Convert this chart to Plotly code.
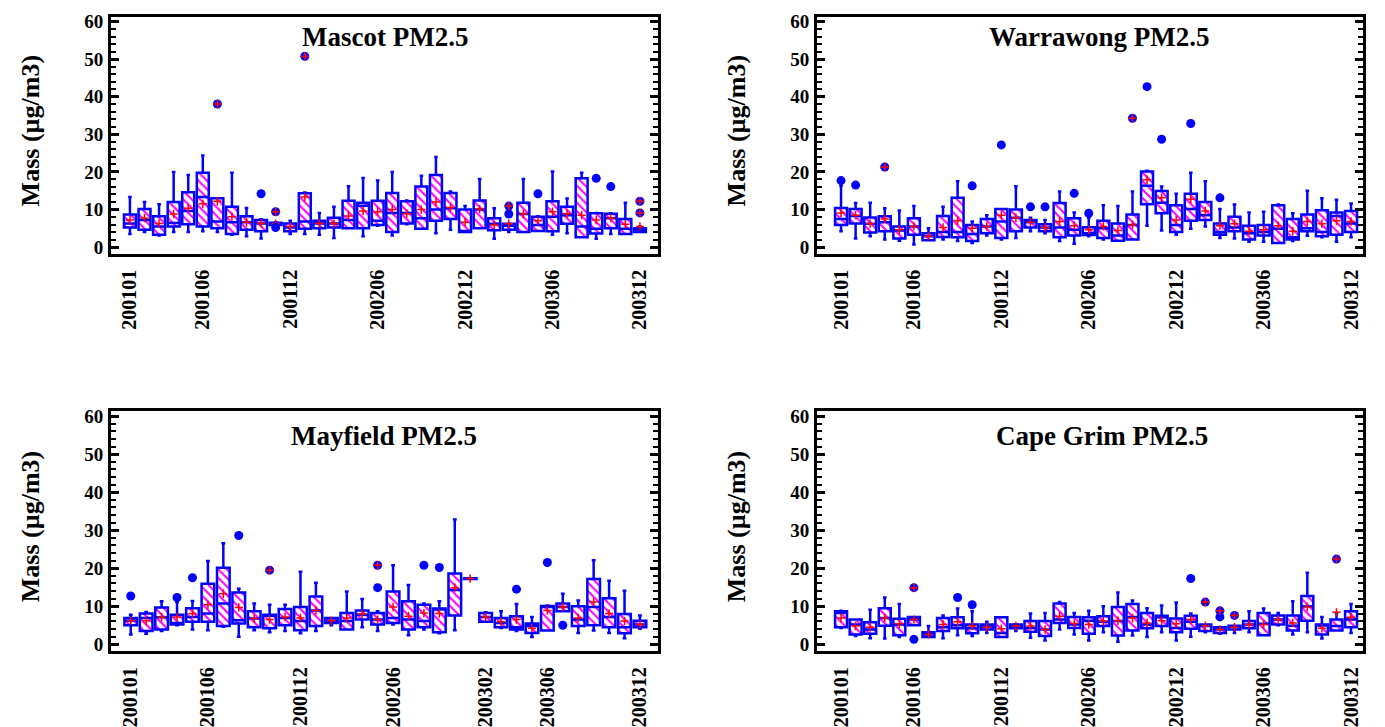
import plotly.graph_objects as go

W, H = 1385, 727

MONTHS = [f"{y}{m:02d}" for y in (2001, 2002, 2003) for m in range(1, 13)]
MAYFIELD_MISSING = ["200211", "200212"]
MAYFIELD_MONTHS = [m for m in MONTHS if m not in MAYFIELD_MISSING]
TICKS_STD = ["200101", "200106", "200112", "200206", "200212", "200306", "200312"]
TICKS_MAY = ["200101", "200106", "200112", "200206", "200302", "200306", "200312"]

# ---------------- Mascot ----------------
mascot_lo = [3.5, 4.0, 3.1, 4.0, 4.0, 4.2, 4.0, 3.3, 2.9, 2.3, 5.6, 3.5, 3.5, 3.3, 2.4, 5.0, 2.9, 5.7,
             3.1, 6.1, 4.9, 3.7, 4.6, 4.0, 5.0, 2.2, 4.0, 4.0, 4.3, 3.3, 3.7, 2.6, 2.2, 3.5, 3.5, 4.0]
mascot_q1 = [5.2, 4.6, 3.3, 5.5, 6.1, 5.5, 5.0, 3.5, 4.6, 4.2, 5.9, 4.2, 4.9, 5.0, 5.2, 5.0, 5.0, 5.9,
             4.0, 6.3, 4.9, 7.0, 7.5, 4.0, 5.0, 4.5, 4.6, 4.0, 4.3, 4.2, 6.2, 2.6, 3.6, 5.0, 3.5, 4.0]
mascot_med = [6.3, 7.2, 5.5, 6.4, 9.6, 13.3, 6.8, 6.6, 6.6, 6.3, 6.2, 5.2, 6.8, 6.3, 6.3, 7.2, 11.0, 7.0,
              9.1, 9.1, 7.7, 10.0, 10.3, 4.2, 10.0, 6.2, 5.7, 8.8, 5.9, 8.1, 8.5, 5.5, 4.9, 7.7, 4.9, 4.6]
mascot_q3 = [8.7, 10.1, 8.2, 12.0, 14.6, 19.8, 13.0, 10.7, 8.2, 7.2, 6.5, 6.3, 14.3, 7.0, 7.8, 12.3, 11.8, 12.3,
             14.4, 12.2, 16.1, 19.2, 14.4, 10.0, 12.4, 7.7, 6.2, 11.8, 8.1, 12.2, 10.7, 18.3, 9.0, 8.9, 7.5, 5.0]
mascot_hi = [13.3, 12.0, 11.4, 20.0, 19.2, 24.4, 13.0, 19.8, 10.4, 7.4, 6.6, 7.0, 14.5, 9.1, 10.7, 16.2, 18.4, 17.7,
             20.0, 12.4, 19.0, 24.0, 14.8, 10.9, 18.1, 10.3, 6.3, 18.1, 8.2, 20.1, 12.9, 19.8, 9.1, 9.0, 11.8, 5.5]
mascot_mean = [7.2, 7.7, 6.3, 8.8, 10.3, 11.5, 12.2, 8.1, 6.6, 6.3, 6.2, 5.5, 13.3, 6.3, 6.3, 8.3, 9.6, 9.4,
               10.0, 8.9, 10.0, 12.0, 10.5, 6.6, 10.1, 5.9, 6.2, 8.8, 7.0, 9.4, 8.9, 8.5, 7.2, 7.7, 6.1, 5.5]
mascot_out_idx = [9, 10, 26, 28, 32, 33]
mascot_out_val = [14.2, 5.2, 8.8, 14.2, 18.3, 16.1]
mascot_ext_idx = [6, 10, 12, 26, 35, 35]
mascot_ext_val = [38.1, 9.4, 50.8, 10.9, 12.2, 9.1]

# ---------------- Warrawong ----------------
warra_lo = [4.2, 2.3, 2.9, 2.0, 1.7, 0.7, 1.8, 2.0, 1.6, 1.1, 3.1, 2.0, 2.4, 4.2, 3.7, 1.6, 0.9, 2.9,
            2.0, 1.7, 2.0, 5.7, 4.4, 3.3, 4.9, 5.5, 2.4, 2.3, 1.4, 1.4, 1.1, 1.6, 3.0, 2.6, 1.4, 2.6]
warra_q1 = [5.9, 6.3, 3.9, 4.2, 2.3, 3.3, 1.8, 2.7, 2.6, 1.6, 3.7, 2.4, 4.2, 5.2, 4.2, 2.6, 3.1, 3.2,
            2.4, 1.7, 2.0, 11.4, 9.0, 4.0, 7.0, 7.2, 3.3, 4.2, 2.0, 3.1, 1.1, 2.0, 4.2, 2.9, 3.3, 4.0]
warra_med = [7.5, 8.3, 6.2, 6.6, 4.4, 5.5, 2.9, 4.0, 4.0, 3.5, 5.5, 6.8, 7.8, 6.6, 5.2, 5.2, 4.6, 3.7,
             5.0, 3.1, 5.9, 16.3, 11.8, 5.9, 10.1, 8.5, 4.0, 5.2, 3.7, 4.0, 4.9, 2.6, 5.0, 4.0, 8.3, 6.3]
warra_q3 = [10.4, 10.1, 7.9, 8.2, 5.5, 7.7, 3.7, 8.3, 13.1, 5.9, 7.5, 10.1, 10.0, 7.2, 6.1, 11.7, 7.7, 5.3,
            7.0, 6.3, 8.7, 20.1, 14.9, 11.1, 14.2, 12.0, 6.3, 8.1, 5.7, 5.9, 11.1, 7.5, 8.7, 9.8, 9.2, 9.6]
warra_hi = [16.3, 11.7, 11.8, 10.3, 9.7, 10.9, 5.0, 10.7, 17.5, 6.8, 8.5, 10.1, 16.2, 7.8, 7.2, 14.8, 9.2, 7.8,
            11.1, 10.9, 14.8, 20.3, 16.1, 14.2, 19.8, 17.5, 10.1, 11.3, 9.2, 9.4, 11.3, 9.0, 15.0, 13.0, 12.6, 11.6]
warra_mean = [9.1, 8.5, 6.2, 7.5, 4.6, 5.5, 2.9, 5.2, 7.0, 5.0, 5.5, 8.5, 7.8, 6.6, 5.2, 6.8, 5.7, 4.6,
              5.5, 4.4, 5.9, 17.9, 13.1, 7.2, 12.7, 9.6, 5.7, 6.2, 4.2, 4.6, 5.7, 4.2, 6.8, 6.2, 7.0, 6.8]
warra_out_idx = [0, 1, 9, 11, 13, 14, 16, 17, 21, 22, 24, 26]
warra_out_val = [17.7, 16.5, 16.3, 27.2, 10.7, 10.7, 14.3, 9.0, 42.7, 28.7, 32.9, 13.1]
warra_ext_idx = [3, 20]
warra_ext_val = [21.3, 34.3]

# ---------------- Mayfield ----------------
may_lo = [2.6, 2.8, 3.5, 5.0, 3.9, 3.7, 4.6, 2.0, 3.7, 3.2, 3.5, 2.9, 3.5, 5.0, 3.9, 4.5, 3.5,
          5.2, 2.4, 3.9, 2.9, 3.7, 17.3, 5.9, 4.3, 3.5, 1.9, 3.6, 8.7, 3.0, 3.6, 3.0, 1.6, 4.1]
may_q1 = [5.0, 3.5, 3.9, 5.2, 5.9, 5.9, 4.8, 5.5, 4.5, 4.2, 5.0, 3.7, 4.8, 5.6, 3.9, 6.5, 5.2,
          5.6, 3.9, 4.5, 3.2, 7.6, 17.2, 5.9, 4.5, 3.9, 3.0, 3.6, 8.7, 4.8, 5.0, 4.5, 2.9, 4.5]
may_med = [6.2, 6.9, 7.1, 5.6, 7.2, 8.1, 10.7, 6.3, 6.8, 7.6, 6.9, 6.1, 8.9, 6.2, 6.1, 7.8, 6.5,
           6.9, 6.5, 6.1, 9.2, 14.3, 17.3, 7.2, 5.6, 4.5, 4.8, 10.0, 9.8, 6.5, 9.8, 7.2, 4.5, 5.2]
may_q3 = [6.9, 8.1, 9.7, 7.8, 9.5, 15.9, 20.1, 13.6, 8.7, 7.8, 9.3, 9.8, 12.6, 6.9, 8.2, 8.9, 8.2,
          13.9, 11.3, 10.4, 9.4, 18.6, 17.4, 8.2, 6.9, 7.4, 5.5, 10.1, 10.7, 10.0, 17.2, 12.1, 8.0, 6.2]
may_hi = [7.8, 8.5, 11.3, 11.1, 11.4, 21.9, 26.6, 14.6, 10.7, 10.4, 10.4, 19.1, 16.2, 6.9, 13.9, 11.9, 8.7,
          20.8, 15.6, 10.7, 11.3, 32.8, 17.4, 8.4, 8.7, 10.6, 7.2, 10.2, 13.3, 11.5, 22.1, 16.7, 14.1, 7.6]
may_mean = [6.2, 6.2, 7.1, 7.2, 8.1, 10.4, 13.3, 9.7, 6.8, 6.5, 7.2, 6.9, 8.9, 6.2, 6.9, 8.0, 6.5,
            9.8, 7.4, 8.2, 8.1, 14.9, 17.3, 7.2, 5.9, 6.5, 4.2, 8.9, 9.8, 6.9, 11.1, 8.1, 6.1, 5.2]
may_out_idx = [0, 3, 4, 7, 16, 19, 20, 25, 27, 28]
may_out_val = [12.7, 12.3, 17.5, 28.6, 14.9, 20.8, 20.2, 14.5, 21.5, 5.0]
may_ext_idx = [9, 16]
may_ext_val = [19.5, 20.8]

# ---------------- Cape Grim ----------------
cape_lo = [4.3, 2.2, 1.6, 1.5, 1.9, 5.0, 1.9, 1.6, 2.4, 2.2, 3.0, 1.9, 3.5, 1.7, 1.0, 3.9, 2.6, 1.0,
           3.2, 0.7, 2.3, 1.9, 3.2, 1.0, 2.0, 3.2, 2.8, 3.0, 3.2, 2.4, 5.0, 2.6, 3.2, 1.5, 3.6, 3.0]
cape_q1 = [4.5, 2.6, 2.8, 4.9, 2.4, 5.0, 1.9, 3.5, 4.2, 2.9, 3.9, 1.9, 4.2, 3.3, 2.2, 5.6, 4.3, 2.8,
           4.8, 2.3, 3.6, 4.2, 4.8, 3.2, 4.1, 3.5, 3.0, 3.9, 4.2, 2.4, 5.2, 3.6, 6.2, 2.6, 3.6, 4.5]
cape_med = [8.2, 5.2, 3.9, 6.9, 5.2, 6.5, 2.6, 4.5, 5.0, 4.2, 4.8, 3.0, 4.8, 4.3, 3.9, 6.5, 5.2, 6.2,
            5.9, 6.1, 7.2, 5.2, 7.1, 4.3, 5.9, 4.8, 3.9, 4.6, 5.2, 5.4, 6.5, 4.9, 10.0, 5.0, 4.8, 6.5]
cape_q3 = [8.7, 6.5, 5.8, 9.5, 6.7, 7.2, 3.2, 6.9, 7.1, 5.2, 5.2, 7.1, 5.2, 6.1, 6.1, 10.7, 7.2, 7.1,
           7.4, 9.8, 10.6, 8.2, 7.5, 6.8, 7.5, 5.2, 4.5, 4.9, 6.1, 8.2, 7.6, 7.6, 12.7, 5.2, 6.5, 8.7]
cape_hi = [8.8, 6.5, 9.1, 12.3, 10.6, 7.2, 4.8, 7.6, 9.4, 8.7, 5.9, 7.1, 5.3, 8.1, 8.2, 11.1, 8.2, 8.8,
           10.0, 13.6, 11.5, 9.5, 10.2, 11.0, 8.1, 5.2, 4.5, 4.9, 8.7, 9.4, 8.2, 11.3, 18.8, 7.2, 8.2, 10.6]
cape_mean = [6.9, 4.8, 4.5, 6.9, 5.4, 6.5, 2.6, 5.2, 5.9, 4.8, 4.5, 4.1, 4.8, 4.8, 3.9, 7.4, 5.5, 5.2,
             6.1, 6.2, 6.9, 5.6, 6.2, 5.4, 6.5, 4.9, 3.9, 4.5, 5.2, 5.2, 6.5, 5.6, 9.8, 4.2, 8.4, 7.1]
cape_out_idx = [5, 8, 9, 24, 26]
cape_out_val = [1.3, 12.3, 10.4, 17.3, 7.2]
cape_ext_idx = [5, 25, 26, 27, 34]
cape_ext_val = [14.9, 11.1, 8.8, 7.6, 22.4]

TITLES = ["Mascot PM2.5", "Warrawong PM2.5", "Mayfield PM2.5", "Cape Grim PM2.5"]

BLUE = "#0000FF"
MAGENTA = "#FF00FF"
FONT = "Liberation Serif"

panels = [
    dict(cats=MONTHS, ticks=TICKS_STD, lo=mascot_lo, q1=mascot_q1, med=mascot_med, q3=mascot_q3, hi=mascot_hi,
         mean=mascot_mean, oi=mascot_out_idx, ov=mascot_out_val, ei=mascot_ext_idx, ev=mascot_ext_val,
         px=(111, 658), py=(12, 253), xr=(-1.30, 36.24), title_x=385, title_y=33),
    dict(cats=MONTHS, ticks=TICKS_STD, lo=warra_lo, q1=warra_q1, med=warra_med, q3=warra_q3, hi=warra_hi,
         mean=warra_mean, oi=warra_out_idx, ov=warra_out_val, ei=warra_ext_idx, ev=warra_ext_val,
         px=(817, 1363), py=(12, 253), xr=(-1.65, 35.82), title_x=1099, title_y=33),
    dict(cats=MAYFIELD_MONTHS, ticks=TICKS_MAY, lo=may_lo, q1=may_q1, med=may_med, q3=may_q3, hi=may_hi,
         mean=may_mean, oi=may_out_idx, ov=may_out_val, ei=may_ext_idx, ev=may_ext_val,
         px=(111, 658), py=(413, 657), xr=(-1.28, 34.17), title_x=384, title_y=438),
    dict(cats=MONTHS, ticks=TICKS_STD, lo=cape_lo, q1=cape_q1, med=cape_med, q3=cape_q3, hi=cape_hi,
         mean=cape_mean, oi=cape_out_idx, ov=cape_out_val, ei=cape_ext_idx, ev=cape_ext_val,
         px=(817, 1363), py=(413, 657), xr=(-1.65, 35.82), title_x=1102, title_y=438),
]

fig = go.Figure()
annotations = []
layout_axes = {}

for k, p in enumerate(panels):
    n = k + 1
    xa = "x" if n == 1 else f"x{n}"
    ya = "y" if n == 1 else f"y{n}"
    cats = p["cats"]
    heights = [b - a for a, b in zip(p["q1"], p["q3"])]

    fig.add_trace(go.Bar(
        x=cats, y=heights, base=p["q1"], width=0.82, xaxis=xa, yaxis=ya,
        marker=dict(color="white", line=dict(width=0),
                    pattern=dict(shape="\\", fgcolor=MAGENTA, bgcolor="white", fgopacity=1,
                                 size=6, solidity=0.35)),
        showlegend=False, hoverinfo="skip"))
    fig.add_trace(go.Box(
        x=cats, q1=p["q1"], median=p["med"], q3=p["q3"], lowerfence=p["lo"], upperfence=p["hi"],
        width=0.82, whiskerwidth=0.3, fillcolor="rgba(0,0,0,0)", boxpoints=False,
        line=dict(color=BLUE, width=2.5), xaxis=xa, yaxis=ya, showlegend=False))
    fig.add_trace(go.Scatter(
        x=cats, y=p["mean"], mode="markers", xaxis=xa, yaxis=ya, showlegend=False,
        marker=dict(symbol="cross-thin", size=6, color="red", line=dict(color="red", width=1.5))))
    all_i = p["oi"] + p["ei"]
    all_v = p["ov"] + p["ev"]
    fig.add_trace(go.Scatter(
        x=[cats[i] for i in all_i], y=all_v, mode="markers", xaxis=xa, yaxis=ya, showlegend=False,
        marker=dict(symbol="circle", size=9, color=BLUE, line=dict(width=0))))
    fig.add_trace(go.Scatter(
        x=[cats[i] for i in p["ei"]], y=p["ev"], mode="markers", xaxis=xa, yaxis=ya, showlegend=False,
        marker=dict(symbol="cross-thin", size=6, color="red", line=dict(color="red", width=1.5))))

    x0, x1 = p["px"]
    y0, y1 = p["py"]
    xdom = [x0 / W, x1 / W]
    ydom = [1 - y1 / H, 1 - y0 / H]
    layout_axes["xaxis" if n == 1 else f"xaxis{n}"] = dict(
        domain=xdom, anchor=ya, type="category", categoryorder="array", categoryarray=cats,
        range=list(p["xr"]), tickmode="array", tickvals=p["ticks"], ticktext=p["ticks"],
        tickangle=-90, ticks="", showline=True, linewidth=3, linecolor="black", mirror=True,
        showgrid=False, zeroline=False, ticklabelstandoff=5,
        tickfont=dict(family=FONT, size=20, color="black", weight="bold"))
    layout_axes["yaxis" if n == 1 else f"yaxis{n}"] = dict(
        domain=ydom, anchor=xa, range=[-1.8, 61.3], tick0=0, dtick=10,
        ticks="inside", ticklen=8, tickwidth=2.5, tickcolor="black",
        minor=dict(dtick=2, ticks="inside", ticklen=5, tickwidth=2, tickcolor="black"),
        showline=True, linewidth=3, linecolor="black", mirror="ticks",
        showgrid=False, zeroline=False, ticklabelstandoff=1,
        tickfont=dict(family=FONT, size=19, color="black", weight="bold"))

    annotations.append(dict(
        text=TITLES[k], x=p["title_x"] / W, y=1 - p["title_y"] / H, xref="paper", yref="paper",
        xanchor="center", yanchor="middle", showarrow=False,
        font=dict(family=FONT, size=27, color="black", weight="bold")))
    annotations.append(dict(
        text="Mass (µg/m3)", x=(x0 - 81) / W, y=1 - ((y0 + y1) / 2 - 4) / H, xref="paper", yref="paper",
        xanchor="center", yanchor="middle", showarrow=False, textangle=-90,
        font=dict(family=FONT, size=26, color="black", weight="bold")))

fig.update_layout(
    width=W, height=H, margin=dict(l=0, r=0, t=0, b=0),
    paper_bgcolor="white", plot_bgcolor="white",
    showlegend=False, barmode="overlay", boxmode="overlay",
    annotations=annotations, **layout_axes)

fig.write_html("out.html",
               config={"displayModeBar": False},
               post_script="document.body.style.margin='0';document.body.style.padding='0';"
                           "document.documentElement.style.overflow='hidden';")
